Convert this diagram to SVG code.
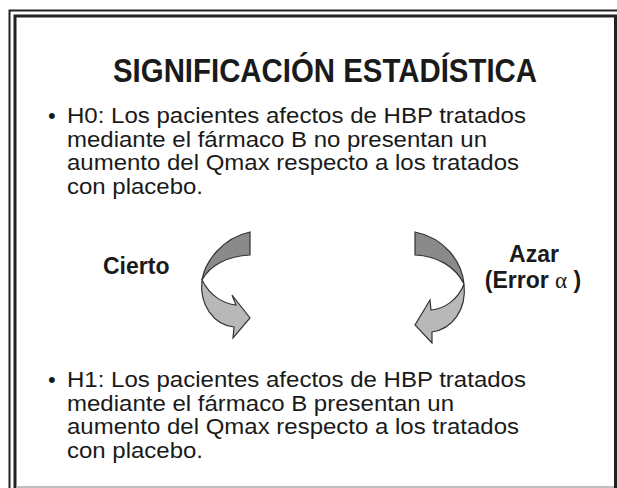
<svg xmlns="http://www.w3.org/2000/svg" width="617" height="488" viewBox="0 0 617 488">
<defs>
<style>
.body{font-family:"Liberation Sans",Arial,sans-serif;font-size:22px;fill:#1a1a1a}
.bold{font-family:"Liberation Sans",Arial,sans-serif;font-weight:bold;fill:#1a1a1a}
.dark{fill:#8a8a8a;stroke:#333;stroke-width:1.2}
.light{fill:#b8b8b8;stroke:#333;stroke-width:1.2}
</style>
</defs>
<rect width="617" height="488" fill="#fff"/>
<g id="frame">
<path d="M9.5 488 V10.5 H617" fill="none" stroke="#222" stroke-width="2"/>
<path d="M15 488 V16 H615.5 V488" fill="none" stroke="#222" stroke-width="3"/>
<line x1="16" y1="487" x2="614" y2="487" stroke="#aaa" stroke-width="1.5"/>
</g>
<g id="title"><text class="bold" x="325" y="82" font-size="34" text-anchor="middle" textLength="424" lengthAdjust="spacingAndGlyphs">SIGNIFICACIÓN ESTADÍSTICA</text></g>
<g id="h0">
<text class="body" x="48" y="123">•</text>
<text class="body" x="67" y="123" textLength="459" lengthAdjust="spacingAndGlyphs">H0: Los pacientes afectos de HBP tratados</text>
<text class="body" x="67" y="146.5" textLength="420" lengthAdjust="spacingAndGlyphs">mediante el fármaco B no presentan un</text>
<text class="body" x="67" y="170" textLength="452" lengthAdjust="spacingAndGlyphs">aumento del Qmax respecto a los tratados</text>
<text class="body" x="67" y="193.5" textLength="136" lengthAdjust="spacingAndGlyphs">con placebo.</text>
</g>
<g id="cierto"><text class="bold" x="103" y="274" font-size="23">Cierto</text></g>
<g id="azar">
<text class="bold" x="534" y="262" font-size="23" text-anchor="middle">Azar</text>
<text class="bold" x="533" y="288" font-size="23" text-anchor="middle">(Error <tspan font-weight="normal" font-family="Liberation Serif,serif">α</tspan> )</text>
</g>
<g id="h1">
<text class="body" x="48" y="387">•</text>
<text class="body" x="67" y="387" textLength="459" lengthAdjust="spacingAndGlyphs">H1: Los pacientes afectos de HBP tratados</text>
<text class="body" x="67" y="410.5" textLength="387" lengthAdjust="spacingAndGlyphs">mediante el fármaco B presentan un</text>
<text class="body" x="67" y="434" textLength="452" lengthAdjust="spacingAndGlyphs">aumento del Qmax respecto a los tratados</text>
<text class="body" x="67" y="457.5" textLength="136" lengthAdjust="spacingAndGlyphs">con placebo.</text>
</g>
<g id="connectors">
<g id="arrow-left">
<path class="dark" d="M250 232 V255 C228 256 210 265 202 280 C205 262 222 238 250 232 Z"/>
<path class="light" d="M202 280 C210 296 224 304 236 305 L232 295 L250 318 L233 338 L234 327 C214 325 199 305 202 280 Z"/>
</g>
<g id="arrow-right">
<path class="dark" d="M415 232 V255 C437 256 455 266 464 284 C462 262 445 238 415 232 Z"/>
<path class="light" d="M464 284 C458 300 444 309 431 310 L430 300 L415 325 L432 343 L432 332 C452 329 467 310 464 284 Z"/>
</g>
</g>
</svg>
